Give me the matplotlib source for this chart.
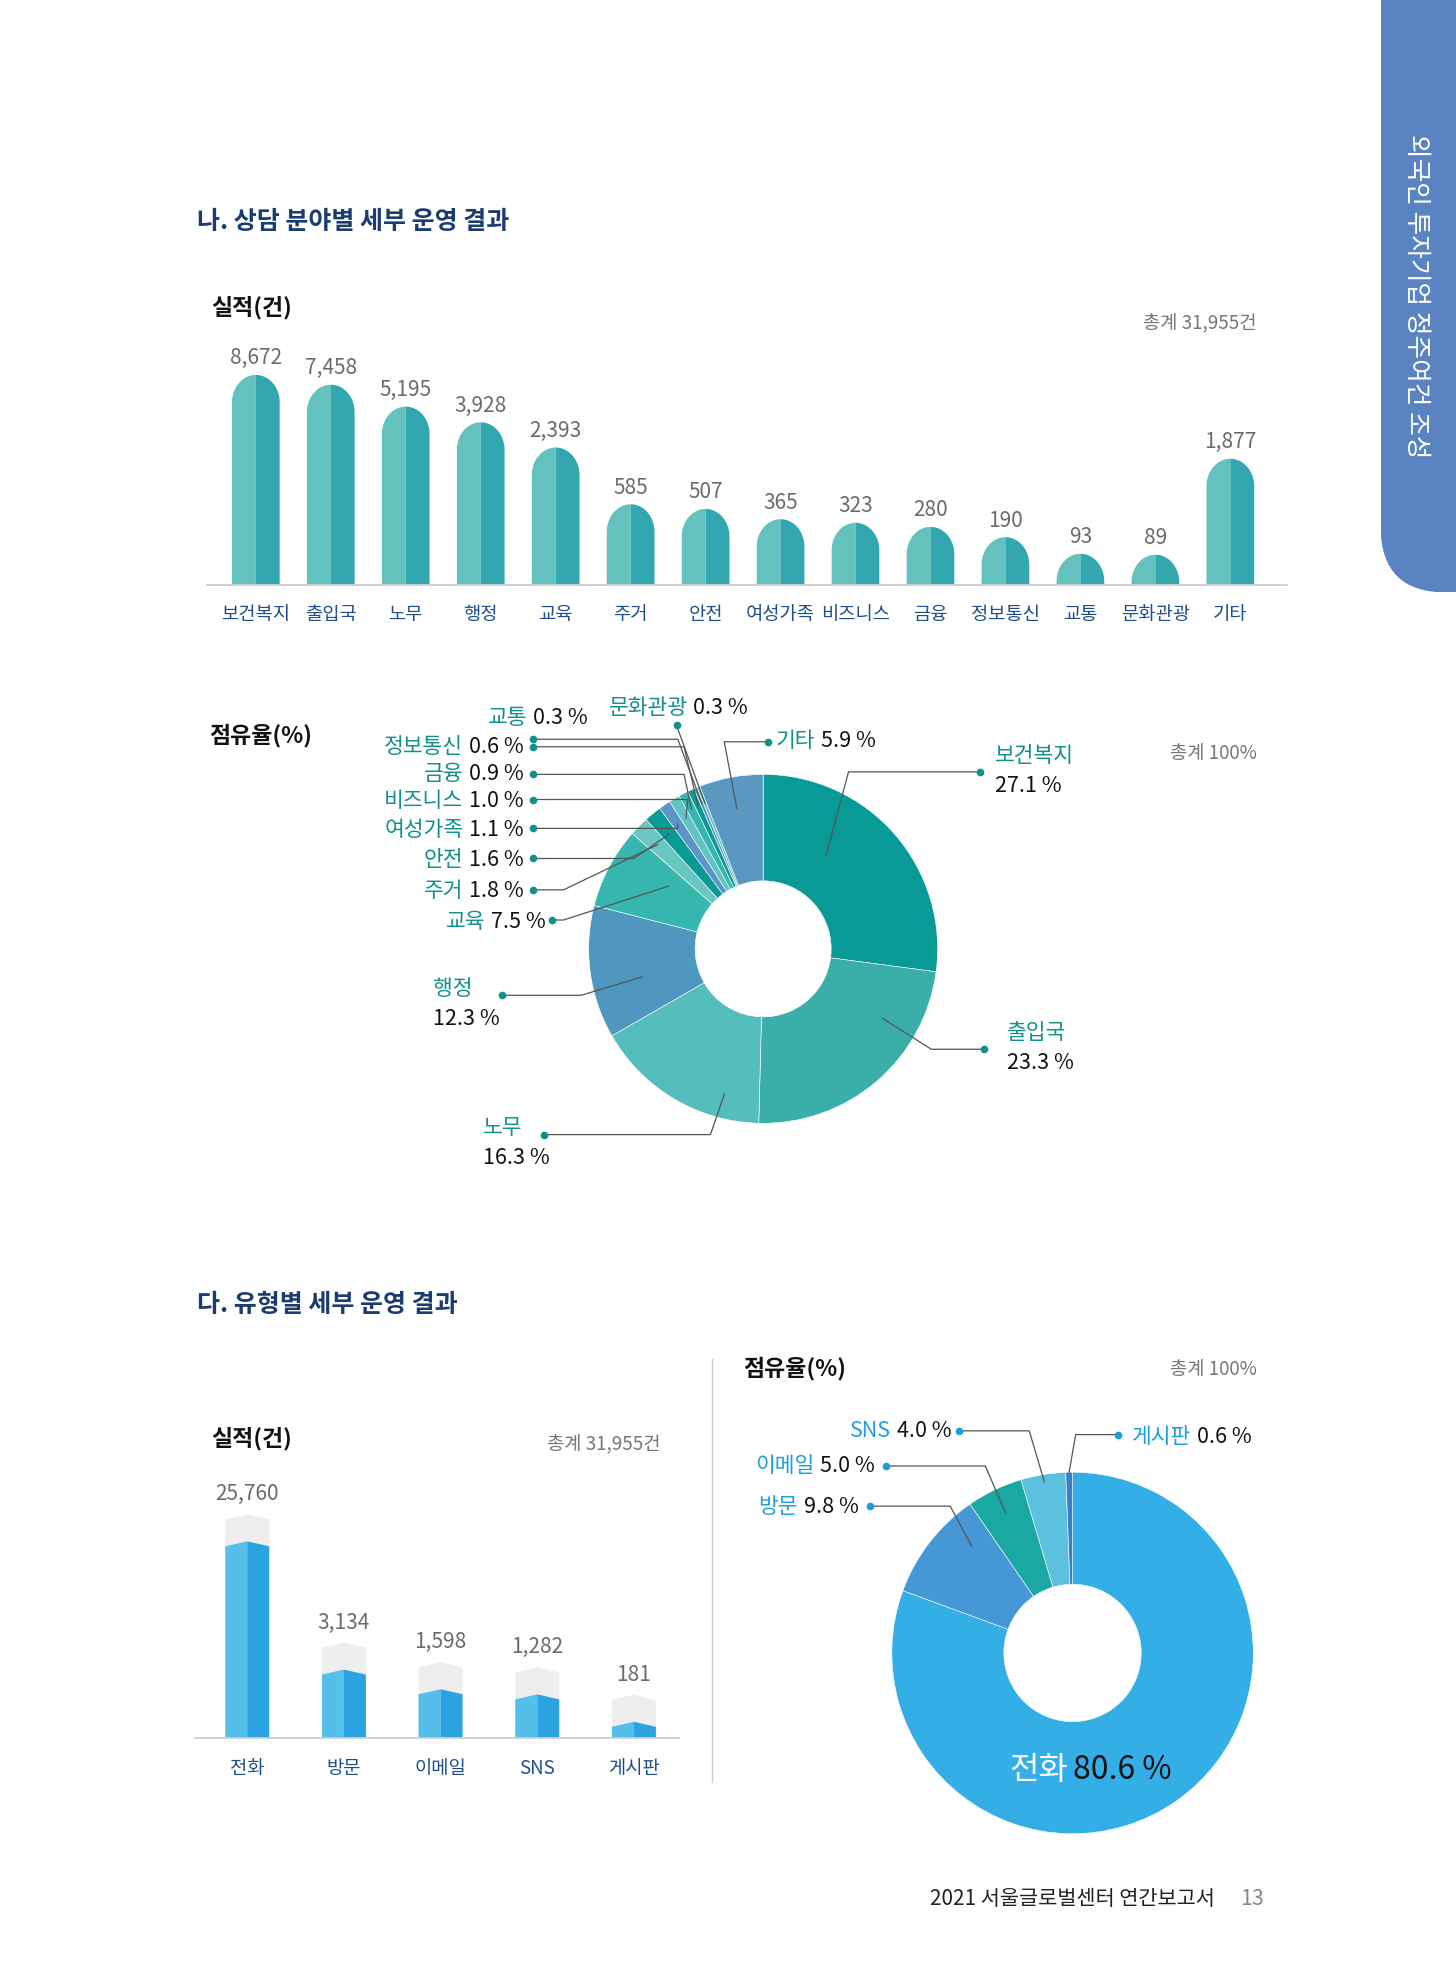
import numpy as np
import matplotlib.pyplot as plt
from matplotlib.patches import Polygon, FancyBboxPatch
from matplotlib.lines import Line2D
from matplotlib.ticker import NullLocator

plt.rcParams['font.family'] = ['Noto Sans CJK KR', 'DejaVu Sans']

# ---- data ----
field_names = ['보건복지', '출입국', '노무', '행정', '교육', '주거', '안전',
               '여성가족', '비즈니스', '금융', '정보통신', '교통', '문화관광', '기타']
field_counts = [8672, 7458, 5195, 3928, 2393, 585, 507, 365, 323, 280, 190, 93, 89, 1877]
field_share = [27.1, 23.3, 16.3, 12.3, 7.5, 1.8, 1.6, 1.1, 1.0, 0.9, 0.6, 0.3, 0.3, 5.9]
field_colors = ['#079a96', '#3aafa9', '#55bdbb', '#4e97bf', '#35b6ae', '#6ac6c2', '#0a9a94',
                '#5b94c7', '#62c4c0', '#35b6ae', '#0a9a94', '#5b94c7', '#62c4c0', '#5a98c2']

type_names = ['전화', '방문', '이메일', 'SNS', '게시판']
type_counts = [25760, 3134, 1598, 1282, 181]
type_share = [80.6, 9.8, 5.0, 4.0, 0.6]
type_colors = ['#33aee6', '#4597d5', '#1aa9a2', '#5cc0df', '#3d7dc7']

NAVY = '#1f4e8c'
TITLE = '#1b3c6e'
GRAY = '#6b6b6b'
TEAL_TXT = '#12918c'
BLUE_TXT = '#1e9fdb'
LINE = '#555555'

FIG_W, FIG_H = 1456, 1968
W, H = 1160, 1568   # layout grid used below


def fx(x):
    return x / W


def fy(y):
    return 1 - y / H


fig = plt.figure(figsize=(FIG_W / 100, FIG_H / 100), dpi=100)


def px_size(ax):
    bb = ax.get_position()
    return bb.width * FIG_W, bb.height * FIG_H


def clean(ax, pad, base_color='#cfcfcf'):
    for s in ['top', 'left', 'right']:
        ax.spines[s].set_visible(False)
    ax.spines['bottom'].set_color(base_color)
    ax.spines['bottom'].set_linewidth(1.3)
    ax.set_yticks([])
    ax.yaxis.set_minor_locator(NullLocator())
    ax.tick_params(axis='y', left=False, labelleft=False)
    ax.tick_params(axis='x', length=0, pad=pad, labelsize=13.5, labelcolor=NAVY)


def bold_ticks(ax):
    for lab in ax.get_xticklabels():
        lab.set_fontweight('medium')


# ---- headers ----
fig.text(fx(157), fy(177), '나. 상담 분야별 세부 운영 결과', fontsize=18, fontweight='bold',
         color=TITLE, va='center')
fig.text(fx(168), fy(245), '실적(건)', fontsize=16.5, fontweight='bold', color='#111', va='center')
fig.text(fx(1001), fy(258), f'총계 {sum(field_counts):,}건', fontsize=13.5, color='#777',
         ha='right', va='center')
fig.text(fx(167), fy(586), '점유율(%)', fontsize=16.5, fontweight='bold', color='#111', va='center')
fig.text(fx(1001), fy(600), '총계 100%', fontsize=13.5, color='#777', ha='right', va='center')

fig.text(fx(157), fy(1040), '다. 유형별 세부 운영 결과', fontsize=18, fontweight='bold',
         color=TITLE, va='center')
fig.text(fx(168), fy(1146), '실적(건)', fontsize=16.5, fontweight='bold', color='#111', va='center')
fig.text(fx(526), fy(1151), f'총계 {sum(type_counts):,}건', fontsize=13.5, color='#777',
         ha='right', va='center')
fig.text(fx(592), fy(1090), '점유율(%)', fontsize=16.5, fontweight='bold', color='#111', va='center')
fig.text(fx(1001), fy(1091), '총계 100%', fontsize=13.5, color='#777', ha='right', va='center')

# ---- top bar chart (rounded bars) ----
ax = fig.add_axes([fx(165), fy(466), fx(1025) - fx(165), fy(262) - fy(466)])


def fwd(v):
    return np.power(np.maximum(v, 0), 0.25)


def inv(y):
    return np.power(np.maximum(y, 0), 4)


ax.set_yscale('function', functions=(fwd, inv))
y0 = 15
ax.set_ylim(y0, inv(fwd(y0) + (fwd(max(field_counts)) - fwd(y0)) / 0.82))
ax.set_xlim(-0.65, len(field_names) - 0.25)
clean(ax, 14)
ax.set_xticks(range(len(field_names)), field_names)
bold_ticks(ax)

to_ax = ax.transData + ax.transAxes.inverted()
pw, ph = px_size(ax)
bw = 0.636
t = np.linspace(0, np.pi / 2, 40)
for i, v in enumerate(field_counts):
    x0, _ = to_ax.transform((i - bw / 2, v))
    x1, top = to_ax.transform((i + bw / 2, v))
    xc = (x0 + x1) / 2
    rx = (x1 - x0) / 2
    ry = rx * pw / ph * 1.15
    left = [(x0, 0), (x0, top - ry)] + \
        [(xc - rx * np.cos(a), top - ry + ry * np.sin(a)) for a in t] + [(xc, 0)]
    right = [(xc, 0), (xc, top)] + \
        [(xc + rx * np.sin(a), top - ry + ry * np.cos(a)) for a in t] + [(x1, 0)]
    ax.add_patch(Polygon(left, closed=True, transform=ax.transAxes, fc='#63c2be', ec='none'))
    ax.add_patch(Polygon(right, closed=True, transform=ax.transAxes, fc='#33a7b0', ec='none'))
    ax.annotate(f'{v:,}', xy=(i, v), xytext=(0, 4), textcoords='offset points',
                ha='center', va='bottom', fontsize=15, color=GRAY, annotation_clip=False)


# ---- label helpers ----
def two_tone(ax, x, y, name, value, style, name_color, size, value_color='#111'):
    kw = dict(va='center', fontsize=size, fontweight='medium')
    if style == 'left':
        t1 = ax.text(x, y, name, ha='left', color=name_color, **kw)
        ax.annotate(value, xy=(1, 0.5), xycoords=t1, xytext=(4, 0), textcoords='offset points',
                    ha='left', color=value_color, **kw)
    else:
        t2 = ax.text(x, y, value, ha='right', color=value_color, **kw)
        ax.annotate(name, xy=(0, 0.5), xycoords=t2, xytext=(-4, 0), textcoords='offset points',
                    ha='right', color=name_color, **kw)


def donut_labels(ax, wedges, names, shares, layout, cx, cy, R, name_color, size):
    def c(X, Y):
        return (X - cx) / R, (cy - Y) / R
    for w, name, share in zip(wedges, names, shares):
        if name not in layout:
            continue
        style, tx, ty, dx, dy, ex, frac, r = layout[name]
        ang = np.radians(w.theta1 + frac * (w.theta2 - w.theta1))
        axp, ayp = r * np.cos(ang), r * np.sin(ang)
        dxx, dyy = c(dx, dy)
        if ex is None:
            xs, ys = [dxx, axp], [dyy, ayp]
        else:
            exx, _ = c(ex, dy)
            xs, ys = [dxx, exx, axp], [dyy, dyy, ayp]
        ax.plot(xs, ys, color=LINE, lw=0.9, clip_on=False, zorder=5)
        ax.plot(dxx, dyy, 'o', ms=4.5, color=name_color, clip_on=False, zorder=6)
        txx, tyy = c(tx, ty)
        value = f'{share:.1f} %'
        if style == 'stack':
            ax.text(txx, tyy, name, ha='left', va='center', color=name_color, fontsize=size,
                    fontweight='medium')
            ax.text(txx, tyy - 24 / R, value, ha='left', va='center', color='#111', fontsize=size,
                    fontweight='medium')
        else:
            two_tone(ax, txx, tyy, name, value, style, name_color, size)


# ---- donut 1 ----
CX1, CY1, R1 = 608, 756, 139
ax = fig.add_axes([fx(CX1 - R1), fy(CY1 + R1), 2 * R1 / W, 2 * R1 / H])
wedges, _ = ax.pie(field_share, colors=field_colors, startangle=90, counterclock=False,
                   wedgeprops=dict(width=0.61, edgecolor='white', linewidth=0.4))
ax.set_xlim(-1, 1)
ax.set_ylim(-1, 1)
ax.axis('off')

# style, text x, text y, dot x, dot y, elbow x, anchor fraction, anchor radius
d1_layout = {
    '보건복지': ('stack', 793, 602, 781, 615, 676, 0.65, 0.64),
    '출입국': ('stack', 802, 823, 784, 836, 742, 0.73, 0.79),
    '노무': ('stack', 385, 899, 433, 904, 566, 0.77, 0.86),
    '행정': ('stack', 345, 788, 400, 793, 463, 0.62, 0.71),
    '교육': ('right', 435, 735, 440, 733, 449, 0.29, 0.65),
    '주거': ('right', 417, 710, 425, 709, 449, 0.5, 0.85),
    '안전': ('right', 417, 685, 425, 684, 505, 0.5, 0.85),
    '여성가족': ('right', 417, 661, 425, 660, 540, 0.5, 0.87),
    '비즈니스': ('right', 417, 638, 425, 637, 548, 0.5, 0.87),
    '금융': ('right', 417, 617, 425, 617, 545, 0.5, 0.9),
    '정보통신': ('right', 417, 595, 425, 595, 545, 0.5, 0.9),
    '교통': ('right', 468, 572, 425, 589, 540, 0.5, 0.9),
    '문화관광': ('left', 485, 564, 539, 578, None, 0.5, 0.9),
    '기타': ('left', 618, 590, 612, 591, 577, 0.5, 0.82),
}
donut_labels(ax, wedges, field_names, field_share, d1_layout, CX1, CY1, R1, TEAL_TXT, 15.5)

# ---- bottom bar chart (chevron bars) ----
ax = fig.add_axes([fx(155), fy(1385), fx(541) - fx(155), fy(1170) - fy(1385)])
ax.set_yscale('function', functions=(lambda v: np.sqrt(np.maximum(v, 0)), np.square))
ax.set_ylim(0, max(type_counts) / 0.73 ** 2)
ax.set_xlim(-0.545, len(type_names) - 0.533)
clean(ax, 14)
ax.set_xticks(range(len(type_names)), type_names)
bold_ticks(ax)

to_ax = ax.transData + ax.transAxes.inverted()
pw, ph = px_size(ax)
bw = 0.455
cap, drop = 27 / ph, 5 / ph
for i, v in enumerate(type_counts):
    x0, _ = to_ax.transform((i - bw / 2, v))
    x1, top = to_ax.transform((i + bw / 2, v))
    xc = (x0 + x1) / 2
    ax.add_patch(Polygon([(x0, 0), (x0, top + cap - drop), (xc, top + cap), (x1, top + cap - drop), (x1, 0)],
                         closed=True, transform=ax.transAxes, fc='#eeeeee', ec='none'))
    ax.add_patch(Polygon([(x0, 0), (x0, top - drop), (xc, top), (xc, 0)],
                         closed=True, transform=ax.transAxes, fc='#55bfeb', ec='none'))
    ax.add_patch(Polygon([(xc, 0), (xc, top), (x1, top - drop), (x1, 0)],
                         closed=True, transform=ax.transAxes, fc='#2ba3e0', ec='none'))
    ax.annotate(f'{v:,}', xy=(i, v), xytext=(0, 36), textcoords='offset pixels',
                ha='center', va='bottom', fontsize=15, color=GRAY, annotation_clip=False)

# divider
fig.add_artist(Line2D([fx(567), fx(567)], [fy(1083), fy(1420)], color='#cccccc', lw=1))

# ---- donut 2 ----
CX2, CY2, R2 = 854.5, 1317, 144
ax = fig.add_axes([fx(CX2 - R2), fy(CY2 + R2), 2 * R2 / W, 2 * R2 / H])
wedges, _ = ax.pie(type_share, colors=type_colors, startangle=90, counterclock=False,
                   wedgeprops=dict(width=0.62, edgecolor='white', linewidth=0.4))
ax.set_xlim(-1, 1)
ax.set_ylim(-1, 1)
ax.axis('off')

d2_layout = {
    '방문': ('right', 684, 1201, 693, 1200, 757, 0.25, 0.81),
    '이메일': ('right', 697, 1168, 706, 1168, 785, 0.5, 0.86),
    'SNS': ('right', 758, 1140, 764, 1140, 820, 0.5, 0.96),
    '게시판': ('left', 902, 1145, 891, 1143, 857, 0.5, 1.0),
}
donut_labels(ax, wedges, type_names, type_share, d2_layout, CX2, CY2, R2, BLUE_TXT, 15.5)
two_tone(ax, (804 - CX2) / R2, (CY2 - 1410) / R2, type_names[0], f'{type_share[0]:.1f} %',
         'left', 'white', 23)

# ---- side tab ----
tab = fig.add_axes([fx(1100), fy(472), fx(1160) - fx(1100), 472 / H])
tab.set_xlim(0, 60)
tab.set_ylim(0, 472)
tab.axis('off')
tab.add_patch(FancyBboxPatch((0, 0), 140, 600, boxstyle='round,pad=0,rounding_size=52',
                             fc='#5a83c2', ec='none'))
tab.text(28, 236, '외국인 투자기업 정주여건 조성', rotation=-90, ha='center', va='center',
         color='white', fontsize=18.5, fontweight='light')

# ---- footer ----
fig.text(fx(968), fy(1513), '2021 서울글로벌센터 연간보고서', ha='right', va='center',
         fontsize=15, color='#222')
fig.text(fx(988), fy(1513), '13', ha='left', va='center', fontsize=15.5, color='#888',
         fontweight='light')

fig.savefig('out.png', dpi=100)
